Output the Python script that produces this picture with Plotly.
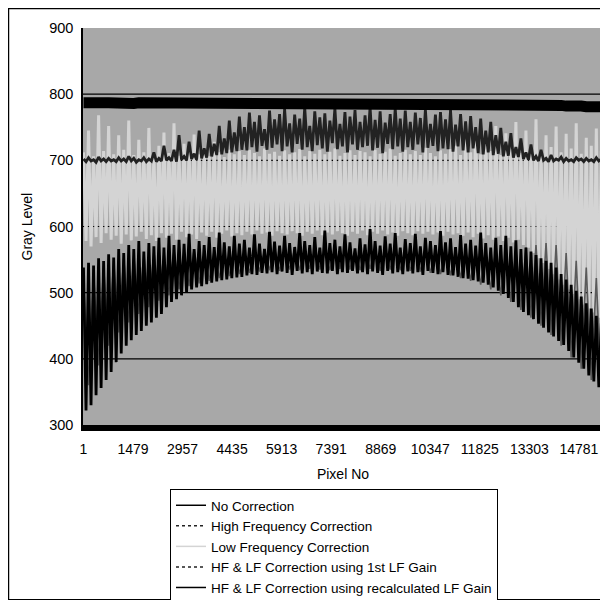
import plotly.graph_objects as go

# ---------------- data ----------------
pixel_fine = list(range(1, 15526, 75))     # 208 sample positions along the detector
pixel_coarse = list(range(1, 15452, 150))  # 104 sample positions

x_tick_vals = [1, 1479, 2957, 4435, 5913, 7391, 8869, 10347, 11825, 13303, 14781]
y_tick_vals = [300, 400, 500, 600, 700, 800, 900]

no_correction = [
    538, 322, 545, 330, 541, 345, 552, 356, 548, 368, 558, 380, 553, 395, 566, 408,
    560, 420, 572, 428, 566, 436, 578, 442, 562, 450, 575, 455, 570, 462, 583, 468,
    568, 478, 586, 486, 572, 490, 580, 496, 574, 500, 589, 505, 566, 508, 578, 510,
    572, 513, 584, 515, 569, 517, 591, 519, 576, 520, 570, 522, 586, 523, 574, 524,
    580, 526, 568, 528, 588, 527, 574, 530, 566, 529, 592, 531, 577, 528, 571, 532,
    586, 530, 575, 527, 569, 533, 590, 529, 578, 531, 572, 528, 584, 532, 568, 530,
    594, 529, 575, 533, 580, 528, 570, 531, 588, 530, 576, 533, 567, 529, 582, 531,
    573, 528, 596, 532, 578, 530, 571, 527, 585, 533, 574, 529, 590, 531, 568, 528,
    581, 532, 575, 529, 589, 531, 570, 527, 583, 533, 578, 530, 572, 528, 593, 531,
    576, 527, 582, 526, 569, 524, 587, 522, 574, 521, 580, 519, 571, 517, 591, 515,
    575, 512, 568, 508, 583, 503, 572, 498, 586, 492, 570, 486, 579, 478, 566, 471,
    568, 466, 562, 460, 557, 453, 552, 447, 548, 440, 545, 434, 538, 427, 528, 421,
    520, 412, 512, 402, 503, 394, 494, 385, 484, 375, 476, 366, 465, 357, 455, 340]

high_freq = [
    520, 360, 530, 390, 540, 420, 548, 440, 552, 455,
    556, 468, 560, 478, 562, 488, 560, 496, 564, 505,
    560, 510, 566, 514, 560, 518, 564, 522, 560, 525,
    566, 528, 560, 530, 565, 532, 562, 534, 566, 533,
    560, 535, 566, 534, 562, 536, 565, 535, 560, 534,
    566, 536, 562, 535, 565, 534, 560, 536, 566, 533,
    562, 535, 565, 534, 560, 533, 566, 532, 562, 530,
    565, 528, 560, 526, 566, 522, 562, 518, 565, 512,
    560, 505, 566, 496, 562, 486, 565, 474, 568, 462,
    572, 450, 575, 436, 572, 420, 560, 402, 548, 385,
    538, 368, 522, 350]

low_freq = [
    712, 578, 745, 570, 706, 584, 768, 575, 714, 590, 752, 580, 709, 586, 738, 574,
    716, 588, 760, 579, 708, 585, 731, 592, 712, 581, 749, 587, 705, 578, 722, 590,
    742, 583, 711, 589, 756, 580, 707, 592, 725, 584, 713, 588, 739, 581, 709, 591,
    718, 586, 706, 592, 728, 583, 712, 589, 705, 594, 716, 585, 709, 590, 714, 587,
    708, 592, 716, 588, 711, 594, 706, 589, 718, 591, 710, 586, 713, 593, 707, 590,
    715, 588, 709, 593, 712, 590, 717, 586, 706, 592, 714, 589, 710, 594, 716, 587,
    709, 591, 713, 588, 718, 593, 707, 590, 711, 586, 715, 592, 708, 589, 714, 594,
    712, 587, 706, 592, 716, 589, 710, 594, 713, 588, 718, 591, 707, 586, 711, 593,
    716, 590, 709, 587, 714, 593, 708, 589, 719, 592, 711, 588, 706, 591, 715, 586,
    710, 592, 717, 588, 722, 590, 708, 586, 731, 591, 712, 584, 744, 589, 709, 582,
    736, 587, 714, 580, 752, 585, 708, 578, 741, 583, 718, 576, 758, 580, 711, 572,
    745, 568, 716, 560, 762, 552, 709, 545, 738, 536, 720, 528, 751, 520, 712, 512,
    740, 505, 718, 498, 756, 490, 710, 482, 734, 476, 722, 470, 748, 462, 714, 455]

hf_lf_first = [
    702, 698, 704, 699, 701, 697, 705, 699, 702, 698, 703, 699, 701, 698, 704, 699,
    702, 698, 706, 699, 703, 697, 701, 699, 704, 698, 702, 699, 712, 698, 703, 699,
    722, 700, 704, 699, 716, 698, 738, 701, 706, 700, 728, 702, 710, 701, 745, 703,
    718, 704, 740, 706, 725, 708, 752, 709, 733, 711, 760, 712, 742, 714, 766, 716,
    750, 715, 772, 720, 758, 713, 768, 722, 747, 716, 775, 719, 762, 724, 770, 714,
    778, 721, 756, 712, 769, 725, 763, 716, 780, 720, 752, 714, 774, 723, 765, 718,
    771, 713, 760, 726, 779, 717, 755, 721, 773, 712, 766, 724, 776, 716, 758, 720,
    768, 722, 781, 715, 761, 719, 774, 711, 757, 725, 770, 717, 779, 721, 763, 713,
    775, 720, 758, 716, 772, 724, 764, 712, 777, 719, 755, 722, 769, 714, 773, 718,
    762, 717, 776, 713, 754, 721, 770, 715, 759, 712, 767, 718, 750, 711, 763, 709,
    745, 712, 758, 708, 738, 710, 749, 706, 728, 707, 741, 704, 720, 705, 733, 702,
    712, 701, 724, 700, 706, 699, 716, 700, 703, 698, 708, 699, 702, 700, 705, 698,
    703, 699, 701, 698, 704, 700, 702, 698, 703, 699, 701, 698, 704, 699, 702, 700]

hf_lf_recalc = [
    787, 786, 787, 786, 787, 787, 786, 786, 787, 786,
    786, 787, 787, 786, 786, 787, 786, 786, 787, 787,
    786, 786, 787, 786, 787, 787, 786, 786, 787, 786,
    787, 786, 786, 787, 787, 786, 786, 786, 787, 787,
    786, 787, 787, 786, 786, 786, 787, 787, 786, 786,
    787, 786, 786, 787, 787, 786, 786, 787, 786, 786,
    787, 787, 786, 786, 787, 786, 786, 787, 787, 786,
    786, 786, 787, 787, 786, 786, 787, 786, 786, 787,
    786, 786, 786, 785, 786, 785, 785, 785, 784, 785,
    784, 784, 783, 784, 783, 783, 782, 783, 782, 782,
    781, 782, 781, 781]

# name, x samples, values, colour, plot width, legend dash, draw order
series = [
    ("No Correction", pixel_fine, no_correction, "#000000", 2.8, "solid", 3),
    ("High Frequency Correction", pixel_coarse, high_freq, "#5a5a5a", 1.6, "dot", 1),
    ("Low Frequency Correction", pixel_fine, low_freq, "#d4d4d4", 3.0, "solid", 0),
    ("HF & LF Correction using 1st LF Gain", pixel_fine, hf_lf_first, "#222222", 2.8, "dot", 2),
    ("HF & LF Correction using recalculated LF Gain", pixel_coarse, hf_lf_recalc, "#000000", 11.0, "solid", 4),
]

fig = go.Figure()

for name, xs, vals, col, w, dash, order in sorted(series, key=lambda s: s[6]):
    fig.add_trace(go.Scatter(x=xs, y=vals, mode="lines", name=name,
                             line=dict(color=col, width=w), showlegend=False,
                             hoverinfo="skip"))

# legend entries drawn with thin samples like the original legend
for name, xs, vals, col, w, dash, order in series:
    lcol = "#222222" if dash == "dot" else col
    fig.add_trace(go.Scatter(x=[None], y=[None], mode="lines", name=name,
                             line=dict(color=lcol, width=1.5, dash=dash),
                             showlegend=True))

# interior horizontal grid lines
for v in y_tick_vals[1:-1]:
    fig.add_shape(type="line", xref="paper", x0=0, x1=1, yref="y", y0=v, y1=v,
                  line=dict(color="black", width=1.2), layer="below")

# outer chart border (page has an 8px body margin; figure starts at page 8,8)
fig.add_shape(type="rect", xref="paper", yref="paper",
              x0=-0.1433, x1=1.0048, y0=-0.44, y1=1.049,
              line=dict(color="black", width=1.5), fillcolor="rgba(0,0,0,0)", layer="above")

# y-axis title
fig.add_annotation(text="Gray Level", xref="paper", yref="paper", x=-0.1077, y=0.5,
                   xanchor="center", yanchor="middle", textangle=-90, showarrow=False,
                   font=dict(size=14))

fig.update_layout(
    width=600, height=592,
    margin=dict(l=75, r=5, t=20, b=175, autoexpand=False),
    paper_bgcolor="white",
    plot_bgcolor="#a8a8a8",
    font=dict(family="Liberation Sans, Arial, sans-serif", size=14, color="black"),
    legend=dict(xref="container", yref="container", x=0.27, y=0.1875,
                xanchor="left", yanchor="top",
                bgcolor="white", bordercolor="black", borderwidth=1,
                font=dict(size=13.5), itemwidth=30),
)
fig.update_xaxes(range=[-14, 15500], tickvals=x_tick_vals,
                 ticktext=[str(v) for v in x_tick_vals],
                 showgrid=False, zeroline=False, showline=True, linecolor="black",
                 linewidth=6, ticks="", tickfont=dict(size=14), ticklabelstandoff=6,
                 title=dict(text="Pixel No", font=dict(size=14), standoff=15))
fig.update_yaxes(range=[300, 900], tickvals=y_tick_vals,
                 showgrid=False, zeroline=False, showline=True, linecolor="black",
                 linewidth=1.5, ticks="", tickfont=dict(size=14.5), ticklabelstandoff=5)

fig.write_html("out.html")
